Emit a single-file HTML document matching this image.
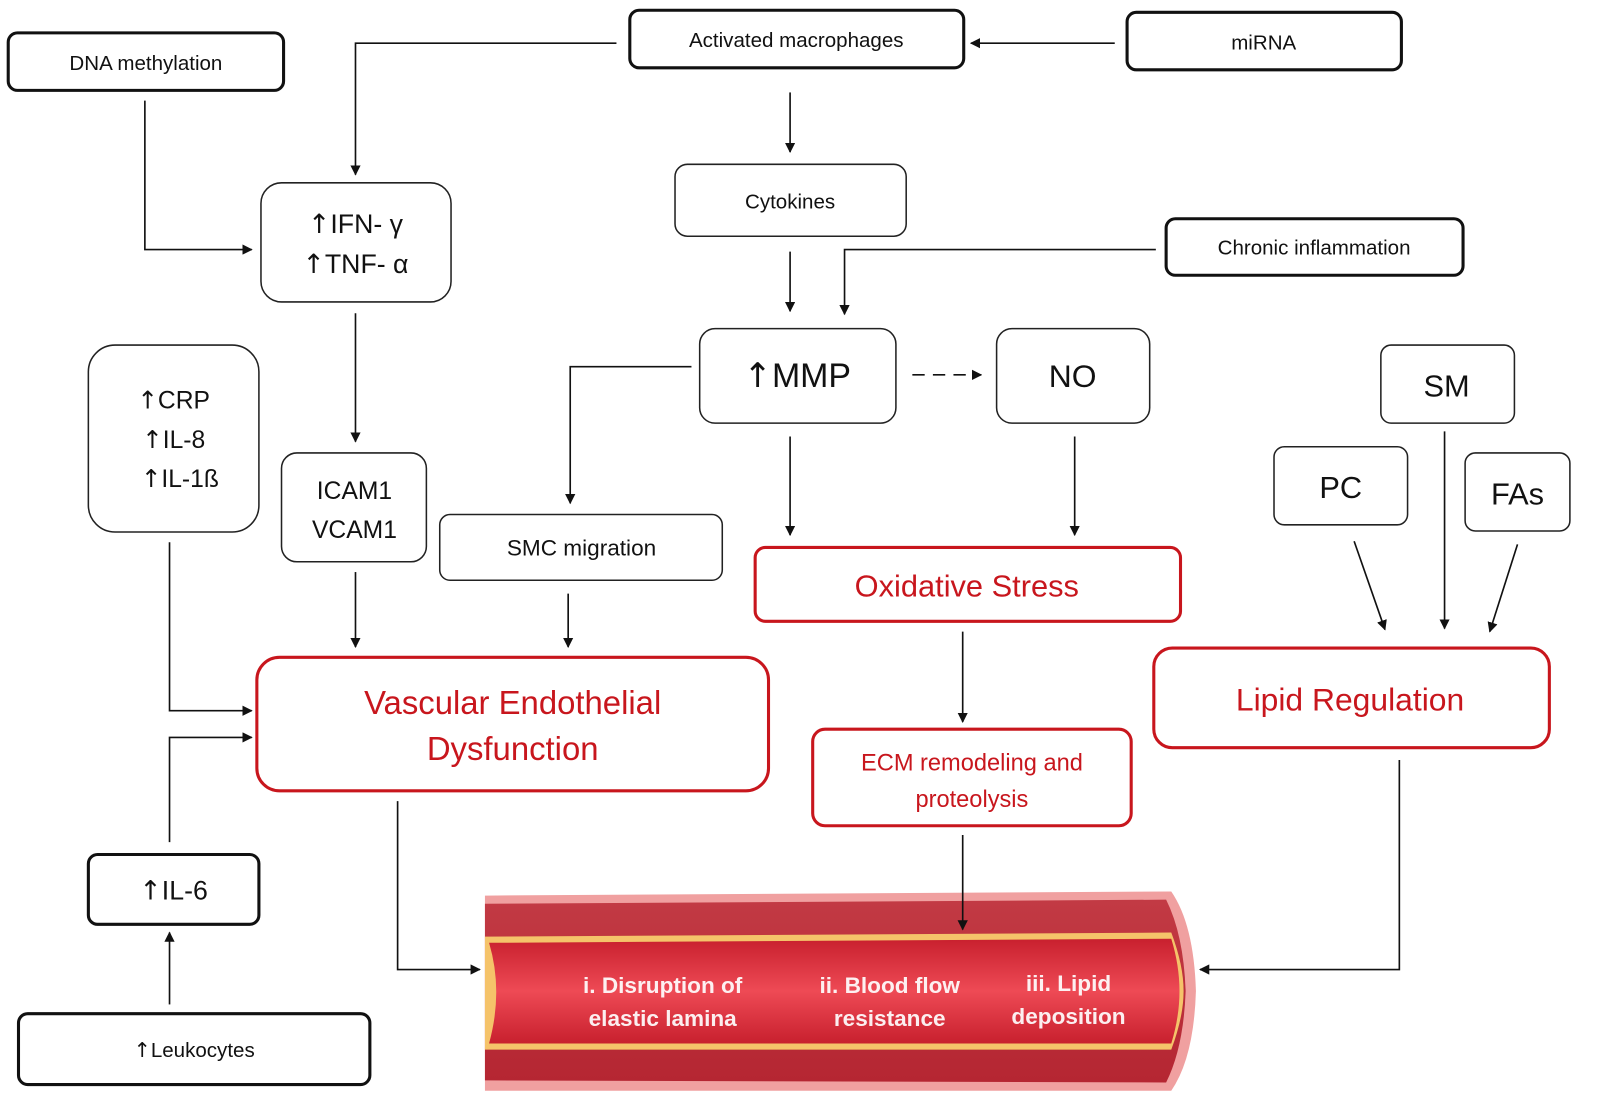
<!DOCTYPE html>
<html><head><meta charset="utf-8"><style>
html,body{margin:0;padding:0;background:#fff;}
svg{display:block;}
text{font-family:"Liberation Sans",sans-serif;}
.ar{font-family:"DejaVu Sans",sans-serif;}
</style></head><body>
<svg width="1611" height="1102" viewBox="0 0 1568 1073" preserveAspectRatio="none" xmlns="http://www.w3.org/2000/svg">
<defs>
<marker id="a" markerWidth="10" markerHeight="10" refX="9" refY="5" orient="auto" markerUnits="userSpaceOnUse"><path d="M0,0 L10,5 L0,10 z" fill="#111"/></marker>
<linearGradient id="lum" x1="0" y1="0" x2="0" y2="1"><stop offset="0" stop-color="#c8202e"/><stop offset="0.5" stop-color="#ee4a55"/><stop offset="1" stop-color="#c8202e"/></linearGradient>
<linearGradient id="wall" x1="0" y1="0" x2="0" y2="1"><stop offset="0" stop-color="#c23a44"/><stop offset="1" stop-color="#b52632"/></linearGradient>
</defs>
<!-- vessel -->
<path d="M472,872 L1140,868 Q1162,900 1164,965 Q1162,1030 1140,1062 L472,1062 Z" fill="#f0a0a0"/>
<path d="M472,880 L1135,876 Q1152,910 1154,965 Q1152,1020 1135,1054 L472,1052 Z" fill="url(#wall)"/>
<path d="M472,912 L1140,908 Q1152,940 1152,965 Q1152,990 1140,1022 L472,1022 Z" fill="#f5c36a"/>
<path d="M476,918 L1140,914 Q1148,940 1148,965 Q1148,990 1140,1016 L476,1016 Q490,965 476,918 Z" fill="url(#lum)"/>
<g fill="#fff" stroke="#111" stroke-width="3">
<rect x="8" y="32" width="268" height="56" rx="9"/>
<rect x="613" y="10" width="325" height="56" rx="9"/>
<rect x="1097" y="12" width="267" height="56" rx="9"/>
<rect x="1135" y="213" width="289" height="55" rx="9"/>
<rect x="86" y="832" width="166" height="68" rx="9"/>
<rect x="18" y="987" width="342" height="69" rx="9"/>
</g>
<g fill="#fff" stroke="#222" stroke-width="1.5">
<rect x="254" y="178" width="185" height="116" rx="20"/>
<rect x="657" y="160" width="225" height="70" rx="12"/>
<rect x="681" y="320" width="191" height="92" rx="15"/>
<rect x="970" y="320" width="149" height="92" rx="15"/>
<rect x="86" y="336" width="166" height="182" rx="26"/>
<rect x="274" y="441" width="141" height="106" rx="15"/>
<rect x="428" y="501" width="275" height="64" rx="10"/>
<rect x="1344" y="336" width="130" height="76" rx="10"/>
<rect x="1240" y="435" width="130" height="76" rx="10"/>
<rect x="1426" y="441" width="102" height="76" rx="10"/>
</g>
<g fill="#fff" stroke="#c8161d" stroke-width="3">
<rect x="735" y="533" width="414" height="72" rx="10"/>
<rect x="1123" y="631" width="385" height="97" rx="18"/>
<rect x="250" y="640" width="498" height="130" rx="22"/>
<rect x="791" y="710" width="310" height="94" rx="12"/>
</g>
<g fill="none" stroke="#111" stroke-width="1.6" marker-end="url(#a)">
<path d="M600,42 H346 V170"/>
<path d="M1085,42 H945"/>
<path d="M141,98 V243 H245"/>
<path d="M769,90 V148"/>
<path d="M769,245 V303"/>
<path d="M1125,243 H822 V306"/>
<path d="M888,365 H955" stroke-dasharray="12,8"/>
<path d="M346,305 V430"/>
<path d="M673,357 H555 V490"/>
<path d="M769,425 V521"/>
<path d="M1046,425 V521"/>
<path d="M1318,527 L1348,613"/>
<path d="M1406,420 V612"/>
<path d="M1477,530 L1450,615"/>
<path d="M346,557 V630"/>
<path d="M553,578 V630"/>
<path d="M165,528 V692 H245"/>
<path d="M165,820 V718 H245"/>
<path d="M165,978 V908"/>
<path d="M937,615 V703"/>
<path d="M937,813 V905"/>
<path d="M387,780 V944 H467"/>
<path d="M1362,740 V944 H1168"/>
</g>
<g fill="#111" font-size="20" text-anchor="middle">
<text x="142" y="68">DNA methylation</text>
<text x="775" y="46">Activated macrophages</text>
<text x="1230" y="48">miRNA</text>
<text x="1279" y="248">Chronic inflammation</text>
<text x="769" y="203">Cytokines</text>
<text x="566" y="541" font-size="22">SMC migration</text>
<text x="169" y="876" font-size="26"><tspan class="ar">↑</tspan>IL-6</text>
<text x="189" y="1029"><tspan class="ar">↑</tspan>Leukocytes</text>
<text x="346" y="227" font-size="26"><tspan class="ar">↑</tspan>IFN- γ</text>
<text x="346" y="266" font-size="26"><tspan class="ar">↑</tspan>TNF- α</text>
<text x="776" y="377" font-size="33"><tspan class="ar">↑</tspan>MMP</text>
<text x="1044" y="377" font-size="31">NO</text>
<text x="169" y="398" font-size="24"><tspan class="ar">↑</tspan>CRP</text>
<text x="169" y="436" font-size="24"><tspan class="ar">↑</tspan>IL-8</text>
<text x="175" y="474" font-size="24"><tspan class="ar">↑</tspan>IL-1ß</text>
<text x="345" y="486" font-size="24">ICAM1</text>
<text x="345" y="524" font-size="24">VCAM1</text>
<text x="1408" y="386" font-size="30">SM</text>
<text x="1305" y="485" font-size="30">PC</text>
<text x="1477" y="491" font-size="30">FAs</text>
</g>
<g fill="#c8161d" text-anchor="middle">
<text x="941" y="581" font-size="30">Oxidative Stress</text>
<text x="1314" y="692" font-size="31">Lipid Regulation</text>
<text x="499" y="695" font-size="32">Vascular Endothelial</text>
<text x="499" y="740" font-size="32">Dysfunction</text>
<text x="946" y="750" font-size="23">ECM remodeling and</text>
<text x="946" y="786" font-size="23">proteolysis</text>
</g>
<g fill="#fff" font-size="22" text-anchor="middle" font-weight="bold" opacity="0.92">
<text x="645" y="967">i. Disruption of</text>
<text x="645" y="999">elastic lamina</text>
<text x="866" y="967">ii. Blood flow</text>
<text x="866" y="999">resistance</text>
<text x="1040" y="965">iii. Lipid</text>
<text x="1040" y="997">deposition</text>
</g>
</svg>
</body></html>
